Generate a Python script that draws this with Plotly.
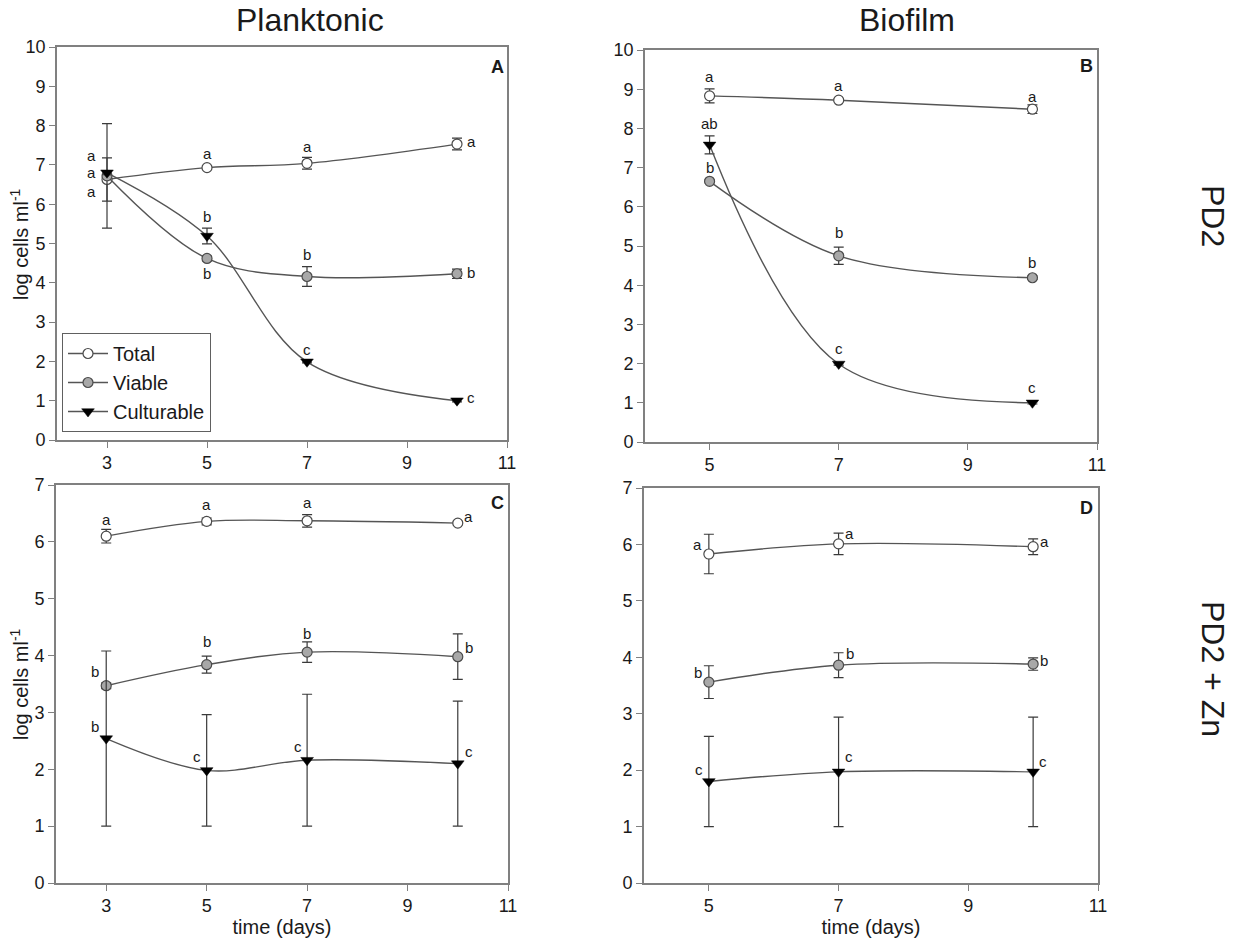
import plotly.graph_objects as go

W, H = 1245, 945

# ---------------- data ----------------
days_plank = [3, 5, 7, 10]
days_bio = [5, 7, 10]

# Panel A: Planktonic, PD2
A_total = [6.63, 6.93, 7.04, 7.53]
A_total_err = [0.55, 0.04, 0.15, 0.15]
A_viable = [6.72, 4.62, 4.16, 4.23]
A_viable_err = [1.33, 0.06, 0.25, 0.12]
A_cult = [6.80, 5.19, 1.99, 1.00]
A_cult_err = [0.05, 0.20, 0.03, 0.03]
A_total_let = ["a", "a", "a", "a"]
A_viable_let = ["a", "b", "b", "b"]
A_cult_let = ["a", "b", "c", "c"]

# Panel B: Biofilm, PD2
B_total = [8.83, 8.72, 8.49]
B_total_err = [0.18, 0.04, 0.11]
B_viable = [6.65, 4.75, 4.19]
B_viable_err = [0.04, 0.22, 0.04]
B_cult = [7.58, 1.99, 1.00]
B_cult_err = [0.23, 0.03, 0.03]
B_total_let = ["a", "a", "a"]
B_viable_let = ["b", "b", "b"]
B_cult_let = ["ab", "c", "c"]

# Panel C: Planktonic, PD2 + Zn
C_total = [6.10, 6.36, 6.37, 6.33]
C_total_err = [0.12, 0.06, 0.11, 0.03]
C_viable = [3.47, 3.84, 4.06, 3.98]
C_viable_err = [0.05, 0.15, 0.18, 0.40]
C_cult = [2.54, 1.98, 2.16, 2.10]
C_cult_err = [1.54, 0.98, 1.16, 1.10]
C_total_let = ["a", "a", "a", "a"]
C_viable_let = ["b", "b", "b", "b"]
C_cult_let = ["b", "c", "c", "c"]

# Panel D: Biofilm, PD2 + Zn
D_total = [5.83, 6.01, 5.96]
D_total_err = [0.35, 0.19, 0.14]
D_viable = [3.56, 3.86, 3.88]
D_viable_err = [0.29, 0.22, 0.11]
D_cult = [1.80, 1.97, 1.97]
D_cult_err = [0.80, 0.97, 0.97]
D_total_let = ["a", "a", "a"]
D_viable_let = ["b", "b", "b"]
D_cult_let = ["c", "c", "c"]

series_names = ["Total", "Viable", "Culturable"]

# ---------------- style ----------------
LINE_COL = "#555555"
AXIS_COL = "#808080"
TXT_COL = "#1a1a1a"
FONT = "Liberation Sans, Arial, sans-serif"

marker_styles = {
    "Total": dict(symbol="circle", size=10, color="white", line=dict(color="#4a4a4a", width=1.2)),
    "Viable": dict(symbol="circle", size=10, color="#a8a8a8", line=dict(color="#4a4a4a", width=1.2)),
    "Culturable": dict(symbol="triangle-down", size=11, color="black", line=dict(color="black", width=0.5)),
}

# letter offsets in pixels (dx, dy) per panel/series/point
offsets = {
    "A": {"Total": [(-16, -12), (0, 14), (0, 17), (14, 3)],
          "Viable": [(-16, 20), (0, -15), (0, 22), (14, 1)],
          "Culturable": [(-16, 0), (0, 20), (0, 12), (14, 3)]},
    "B": {"Total": [(0, 19), (0, 15), (0, 13)],
          "Viable": [(0, 14), (0, 23), (0, 15)],
          "Culturable": [(0, 21), (0, 15), (0, 15)]},
    "C": {"Total": [(0, 17), (0, 17), (0, 18), (11, 7)],
          "Viable": [(-11, 14), (0, 23), (0, 19), (11, 9)],
          "Culturable": [(-11, 12), (-10, 14), (-9, 14), (11, 12)]},
    "D": {"Total": [(-11, 10), (11, 10), (11, 5)],
          "Viable": [(-11, 10), (11, 12), (11, 4)],
          "Culturable": [(-10, 12), (10, 15), (10, 10)]},
}

# domains in pixels: (left, right, top, bottom)
dom_px = {
    "A": (57, 507, 47, 440),
    "B": (645, 1097, 50, 442),
    "C": (56, 508, 485, 883),
    "D": (644, 1098, 488, 883),
}
axis_ids = {"A": ("x", "y", ""), "B": ("x2", "y2", "2"), "C": ("x3", "y3", "3"), "D": ("x4", "y4", "4")}

panels = {
    "A": (days_plank, [(A_total, A_total_err, A_total_let), (A_viable, A_viable_err, A_viable_let), (A_cult, A_cult_err, A_cult_let)]),
    "B": (days_bio, [(B_total, B_total_err, B_total_let), (B_viable, B_viable_err, B_viable_let), (B_cult, B_cult_err, B_cult_let)]),
    "C": (days_plank, [(C_total, C_total_err, C_total_let), (C_viable, C_viable_err, C_viable_let), (C_cult, C_cult_err, C_cult_let)]),
    "D": (days_bio, [(D_total, D_total_err, D_total_let), (D_viable, D_viable_err, D_viable_let), (D_cult, D_cult_err, D_cult_let)]),
}

fig = go.Figure()
annotations = []

for pname, (xs, sers) in panels.items():
    xa, ya, suf = axis_ids[pname]
    for sname, (vals, errs, lets) in zip(series_names, sers):
        fig.add_trace(go.Scatter(
            x=xs, y=vals, xaxis=xa, yaxis=ya,
            mode="lines+markers", name=sname,
            showlegend=(pname == "A"),
            line=dict(color=LINE_COL, width=1.4, shape="spline", smoothing=1.0),
            marker=marker_styles[sname],
            error_y=dict(type="data", array=errs, visible=True, color="#3a3a3a", thickness=1.2, width=5),
        ))
        for i, (xv, yv, lt) in enumerate(zip(xs, vals, lets)):
            dx, dy = offsets[pname][sname][i]
            annotations.append(dict(
                x=xv, y=yv, xref=xa, yref=ya, text=lt, showarrow=False,
                xshift=dx, yshift=dy, font=dict(size=15, color=TXT_COL, family=FONT),
                xanchor="center", yanchor="middle",
            ))

layout = dict(
    width=W, height=H,
    margin=dict(l=0, r=0, t=0, b=0),
    paper_bgcolor="white", plot_bgcolor="white",
    font=dict(family=FONT, color=TXT_COL, size=18),
    showlegend=True,
    legend=dict(
        x=62 / W, y=1 - 333 / H, xanchor="left", yanchor="top",
        bordercolor="#606060", borderwidth=1, bgcolor="white",
        font=dict(size=20, family=FONT, color=TXT_COL),
        itemwidth=40, tracegroupgap=0,
    ),
)

xranges = {"A": [2, 11], "B": [4, 11], "C": [2, 11], "D": [4, 11]}
xticks = {"A": [3, 5, 7, 9, 11], "B": [5, 7, 9, 11], "C": [3, 5, 7, 9, 11], "D": [5, 7, 9, 11]}
yranges = {"A": [0, 10], "B": [0, 10], "C": [0, 7], "D": [0, 7]}

for pname, (l, r, t, b) in dom_px.items():
    xa, ya, suf = axis_ids[pname]
    common = dict(showline=True, linecolor=AXIS_COL, linewidth=1.6, mirror=True,
                  ticks="outside", ticklen=6, tickwidth=1.3, tickcolor=AXIS_COL,
                  showgrid=False, zeroline=False, automargin=False,
                  tickfont=dict(size=18, family=FONT, color=TXT_COL))
    xt = None
    if pname in ("C", "D"):
        xt = dict(text="time (days)", font=dict(size=20, family=FONT, color=TXT_COL), standoff=0)
    layout["xaxis" + suf] = dict(common, domain=[l / W, r / W], range=xranges[pname],
                                 tickmode="array", tickvals=xticks[pname],
                                 anchor=ya, title=xt)
    layout["yaxis" + suf] = dict(common, domain=[1 - b / H, 1 - t / H], range=yranges[pname],
                                 tickmode="linear", tick0=0, dtick=1, anchor=xa)

# panel letters
for pname, (px, py) in {"A": (497, 67), "B": (1086, 66), "C": (497, 503), "D": (1086, 508)}.items():
    annotations.append(dict(x=px / W, y=1 - py / H, xref="paper", yref="paper", text="<b>%s</b>" % pname,
                            showarrow=False, font=dict(size=18, family=FONT, color=TXT_COL),
                            xanchor="center", yanchor="middle"))

# column titles
annotations.append(dict(x=310 / W, y=1 - 20 / H, xref="paper", yref="paper", text="Planktonic",
                        showarrow=False, font=dict(size=32, family=FONT, color=TXT_COL),
                        xanchor="center", yanchor="middle"))
annotations.append(dict(x=907 / W, y=1 - 20 / H, xref="paper", yref="paper", text="Biofilm",
                        showarrow=False, font=dict(size=32, family=FONT, color=TXT_COL),
                        xanchor="center", yanchor="middle"))
# row titles
annotations.append(dict(x=1213 / W, y=1 - 216 / H, xref="paper", yref="paper", text="PD2",
                        showarrow=False, textangle=90, font=dict(size=32, family=FONT, color=TXT_COL),
                        xanchor="center", yanchor="middle"))
annotations.append(dict(x=1213 / W, y=1 - 669 / H, xref="paper", yref="paper", text="PD2 + Zn",
                        showarrow=False, textangle=90, font=dict(size=32, family=FONT, color=TXT_COL),
                        xanchor="center", yanchor="middle"))
# y titles
for py in (244, 684):
    annotations.append(dict(x=19 / W, y=1 - py / H, xref="paper", yref="paper", text="log cells ml<sup>-1</sup>",
                            showarrow=False, textangle=-90, font=dict(size=20, family=FONT, color=TXT_COL),
                            xanchor="center", yanchor="middle"))

layout["annotations"] = annotations
fig.update_layout(**layout)
fig.write_html("out.html")
